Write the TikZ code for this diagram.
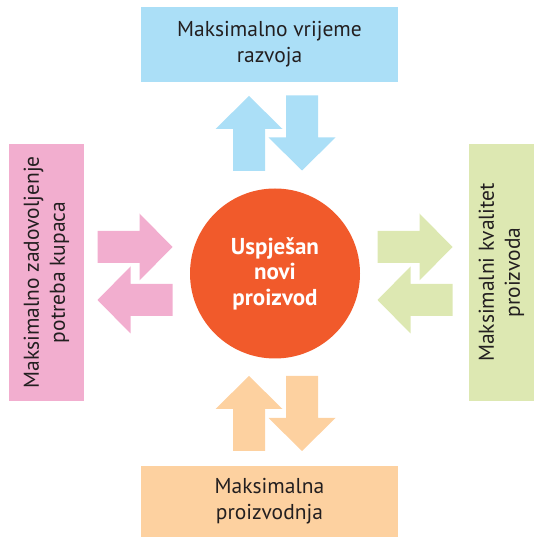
\documentclass[tikz,border=0pt]{standalone}
\usepackage{fontspec}
\setmainfont{PT Sans}
\usetikzlibrary{positioning}
\definecolor{skyblue}{HTML}{ABDFF7}
\definecolor{softpink}{HTML}{F2AECF}
\definecolor{palegreen}{HTML}{DDE8B2}
\definecolor{peach}{HTML}{FDD1A0}
\definecolor{flame}{HTML}{F15A2B}
\definecolor{inkgray}{HTML}{231F20}

\begin{document}
\begin{tikzpicture}[x=1pt, y=1pt,
    every node/.style={font=\fontsize{21.5}{26}\selectfont, text=inkgray},
    goalbox/.style={rectangle, inner sep=0pt, align=center},
    core/.style={circle, fill=flame, minimum size=170pt, inner sep=0pt, align=center,
        text=white, font=\fontsize{23}{25.5}\selectfont\bfseries},
    fatarrow/.pic={\fill (-16,-37.5) -- (-16,4.5) -- (-33.5,4.5) -- (0,37.5)
        -- (33.5,4.5) -- (16,4.5) -- (16,-37.5) -- cycle;},
]
\useasboundingbox (0,0) rectangle (536,538);

% Centre
\node[core] (product) at (275,264.5) {Uspješan\\novi\\proizvod};

% Goals
\node[goalbox, fill=skyblue, minimum width=257pt, minimum height=75pt]
    (time) at (269.5,493.5) {Maksimalno vrijeme\\razvoja};
\node[goalbox, fill=peach, minimum width=257pt, minimum height=71pt]
    (output) at (269.5,36.5) {Maksimalna\\proizvodnja};
\node[goalbox, fill=softpink, rotate=90, minimum width=257pt, minimum height=75pt]
    (needs) at (46.5,265.5) {Maksimalno zadovoljenje\\potreba kupaca};
\node[goalbox, fill=palegreen, rotate=90, minimum width=257pt, minimum height=65pt]
    (quality) at (501.5,265.5) {Maksimalni kvalitet\\proizvoda};

% Two-way arrows
\pic[fill=skyblue] at (249,404.5) {fatarrow};
\pic[fill=skyblue, rotate=180] at (302,405) {fatarrow};
\pic[fill=peach] at (249,124.5) {fatarrow};
\pic[fill=peach, rotate=180] at (302,124.5) {fatarrow};
\pic[fill=softpink, rotate=-90] at (135,291) {fatarrow};
\pic[fill=softpink, rotate=90] at (135,238) {fatarrow};
\pic[fill=palegreen, rotate=-90] at (415,291) {fatarrow};
\pic[fill=palegreen, rotate=90] at (415,238) {fatarrow};
\end{tikzpicture}
\end{document}
